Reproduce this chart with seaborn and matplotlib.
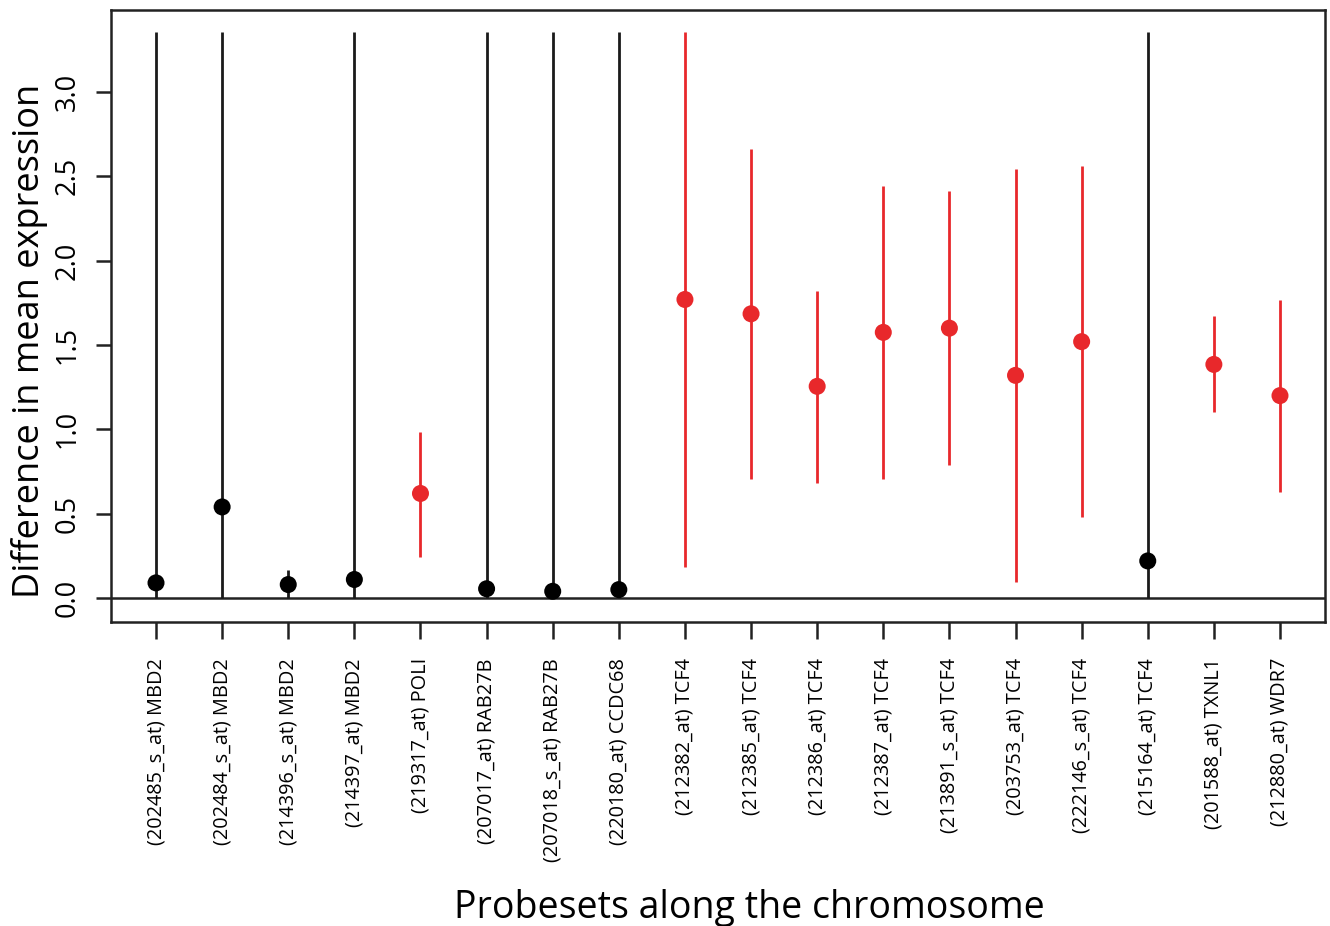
import matplotlib
matplotlib.use("Agg")
import matplotlib.pyplot as plt
import seaborn as sns
import numpy as np
import pandas as pd

labels = ["(202485_s_at) MBD2", "(202484_s_at) MBD2", "(214396_s_at) MBD2",
          "(214397_at) MBD2", "(219317_at) POLI", "(207017_at) RAB27B",
          "(207018_s_at) RAB27B", "(220180_at) CCDC68", "(212382_at) TCF4",
          "(212385_at) TCF4", "(212386_at) TCF4", "(212387_at) TCF4",
          "(213891_s_at) TCF4", "(203753_at) TCF4", "(222146_s_at) TCF4",
          "(215164_at) TCF4", "(201588_at) TXNL1", "(212880_at) WDR7"]
diff = [0.09, 0.54, 0.08, 0.11, 0.62, 0.055, 0.04, 0.05, 1.77, 1.685, 1.255,
        1.575, 1.60, 1.32, 1.52, 0.22, 1.385, 1.20]
lower = [0.0, 0.0, 0.0, 0.0, 0.245, 0.0, 0.0, 0.0, 0.185, 0.705, 0.68,
         0.705, 0.79, 0.095, 0.48, 0.0, 1.10, 0.63]
upper = [3.355, 3.355, 0.165, 3.355, 0.985, 3.355, 3.355, 3.355, 3.355, 2.66,
         1.82, 2.445, 2.415, 2.545, 2.56, 3.355, 1.67, 1.765]
significant = [False, False, False, False, True, False, False, False, True,
               True, True, True, True, True, True, False, True, True]

sns.set_theme(style="white")
plt.rcParams['font.family'] = ['Open Sans', 'DejaVu Sans']
plt.rcParams['text.color'] = 'black'
plt.rcParams['axes.labelcolor'] = 'black'
plt.rcParams['xtick.color'] = 'black'
plt.rcParams['ytick.color'] = 'black'

df = pd.DataFrame({"pos": np.arange(1, len(labels) + 1), "diff": diff,
                   "lower": lower, "upper": upper,
                   "group": ["sig" if s else "ns" for s in significant]})
palette = {"sig": "#e8282b", "ns": "#000000"}

fig = plt.figure(figsize=(13.30, 9.26), dpi=100)
ax = fig.add_axes([0.0835, 0.3283, 0.9127, 0.6609])

for g, sub in df.groupby("group"):
    ax.vlines(sub["pos"], sub["lower"], sub["upper"],
              color=("#1a1a1a" if g == "ns" else palette[g]), lw=2.0, zorder=2)
ax.axhline(0, color="#222222", lw=1.8, zorder=1)
sns.scatterplot(data=df, x="pos", y="diff", hue="group", palette=palette,
                s=150, edgecolor="none", legend=False, ax=ax, zorder=3)

ax.set_xlim(0.32, 18.68)
ax.set_ylim(-0.142, 3.486)
ax.set_xticks(df["pos"])
ax.set_xticklabels(labels, rotation=90, fontsize=14.3, va="top")
ax.set_yticks([0, 0.5, 1.0, 1.5, 2.0, 2.5, 3.0])
ax.set_yticklabels(["0.0", "0.5", "1.0", "1.5", "2.0", "2.5", "3.0"],
                   rotation=90, va="center", fontsize=19.5)
ax.tick_params(axis="x", direction="out", length=12, width=1.8,
               color="#222222", pad=14, bottom=True)
ax.tick_params(axis="y", direction="out", length=11, width=1.8,
               color="#222222", pad=10, left=True)
for sp in ax.spines.values():
    sp.set_color("#222222")
    sp.set_linewidth(1.8)

ax.set_xlabel("Probesets along the chromosome", fontsize=27)
ax.xaxis.set_label_coords(0.526, -0.437)
ax.set_ylabel("Difference in mean expression", fontsize=26)
ax.yaxis.set_label_coords(-0.052, 0.459)

fig.savefig("out.png", dpi=100, facecolor="white")
